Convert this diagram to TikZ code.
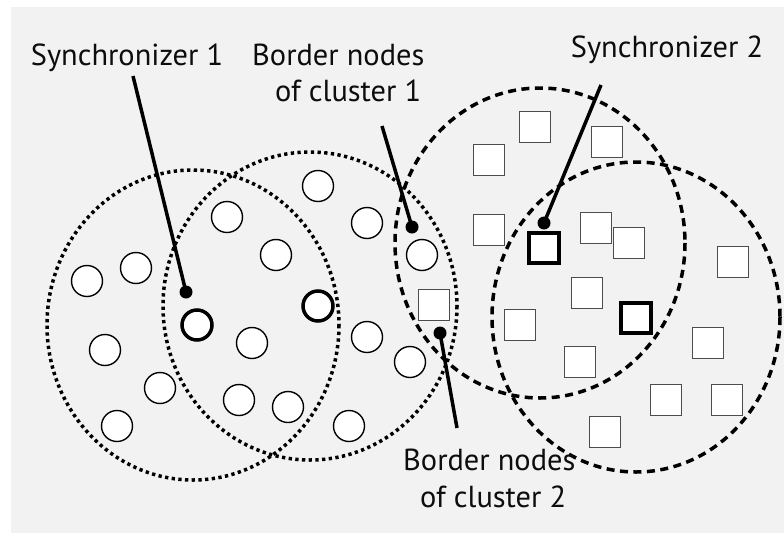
\documentclass[tikz,border=0pt]{standalone}
\usepackage{fontspec}
\setmainfont{PT Sans}
\begin{document}
\begin{tikzpicture}[x=1pt,y=-1pt,
  lbl/.style={inner sep=0pt,anchor=base,text=black!95,font=\fontsize{30.4}{36}\selectfont},
  lblw/.style={lbl,anchor=base west},
  cn/.style={circle,draw=black,fill=white,line width=1.4pt,minimum size=31pt,inner sep=0pt},
  cnt/.style={cn,line width=3.5pt,minimum size=30pt},
  sq/.style={rectangle,draw=black!70,fill=white,line width=1.4pt,minimum size=30.5pt,inner sep=0pt},
  sqt/.style={sq,draw=black,line width=3.5pt,minimum size=30pt},
  dotc/.style={draw=black,line width=3.5pt,dash pattern=on 3.3pt off 3.4pt},
  dashc/.style={draw=black,line width=3.5pt,dash pattern=on 8pt off 5.5pt},
  conn/.style={draw=black,line width=3.5pt},
  tipdot/.style={fill=black}]
\useasboundingbox (0,0) rectangle (784,533);
\fill[white] (0,0) rectangle (784,533);
\fill[black!5] (11,7) rectangle (784,533);

% clusters
\path[dotc] (193,325) ellipse [x radius=146, y radius=155];
\path[dotc] (310,306) ellipse [x radius=147, y radius=154];
\path[dashc] (540,243) ellipse [x radius=145, y radius=155];
\path[dashc] (636,317) ellipse [x radius=144, y radius=155];

% circle nodes
\node[cn] (c1) at (318,186) {};
\node[cn] (c2) at (227,217) {};
\node[cn] (c3) at (367,223) {};
\node[cn] (c4) at (276,255) {};
\node[cn] (c5) at (87,281) {};
\node[cn] (c6) at (136,268) {};
\node[cnt] (s1) at (197,325) {};
\node[cnt] (c7) at (318,306) {};
\node[cn] (c8) at (252,343) {};
\node[cn] (c9) at (105,350) {};
\node[cn] (c10) at (367,337) {};
\node[cn] (c11) at (160,388) {};
\node[cn] (c12) at (239,400) {};
\node[cn] (c13) at (288,407) {};
\node[cn] (c14) at (117,426) {};
\node[cn] (c15) at (349,426) {};
\node[cn] (b1) at (422,255) {};
\node[cn] (c16) at (410,362) {};

% square nodes
\node[sq] (q1) at (535,127) {};
\node[sq] (q2) at (489,160) {};
\node[sq] (q3) at (607,142) {};
\node[sq] (q4) at (489,230) {};
\node[sqt] (s2) at (544,248) {};
\node[sq] (q5) at (596,228) {};
\node[sq] (q6) at (629,243) {};
\node[sq] (q7) at (733,262) {};
\node[sq] (b2) at (434,305) {};
\node[sq] (q8) at (587,293) {};
\node[sqt] (q9) at (636,318) {};
\node[sq] (q10) at (520,325) {};
\node[sq] (q11) at (708,343) {};
\node[sq] (q12) at (580,362) {};
\node[sq] (q13) at (666,400) {};
\node[sq] (q14) at (727,400) {};
\node[sq] (q15) at (605,432) {};

% labels
\node[lbl] (l1) at (127,65) {Synchronizer 1};
\node[lblw] (l2a) at (252,65) {Border nodes};
\node[lblw] (l2b) at (275,101) {of cluster 1};
\node[lbl] (l3) at (667,57) {Synchronizer 2};
\node[lblw] (l4a) at (403,470) {Border nodes};
\node[lblw] (l4b) at (420,507) {of cluster 2};

% connector ends
\coordinate (a1) at (133,76);  \coordinate (d1) at (186,292);
\coordinate (a2) at (382,126); \coordinate (d2) at (412,227);
\coordinate (a3) at (601,85);  \coordinate (d3) at (544,223);
\coordinate (a4) at (457,428); \coordinate (d4) at (440,333);

\foreach \a/\d in {a1/d1,a2/d2,a3/d3,a4/d4}{
  \draw[conn] (\a) -- (\d);
  \fill[tipdot] (\d) circle (6.5);
}
\end{tikzpicture}
\end{document}
